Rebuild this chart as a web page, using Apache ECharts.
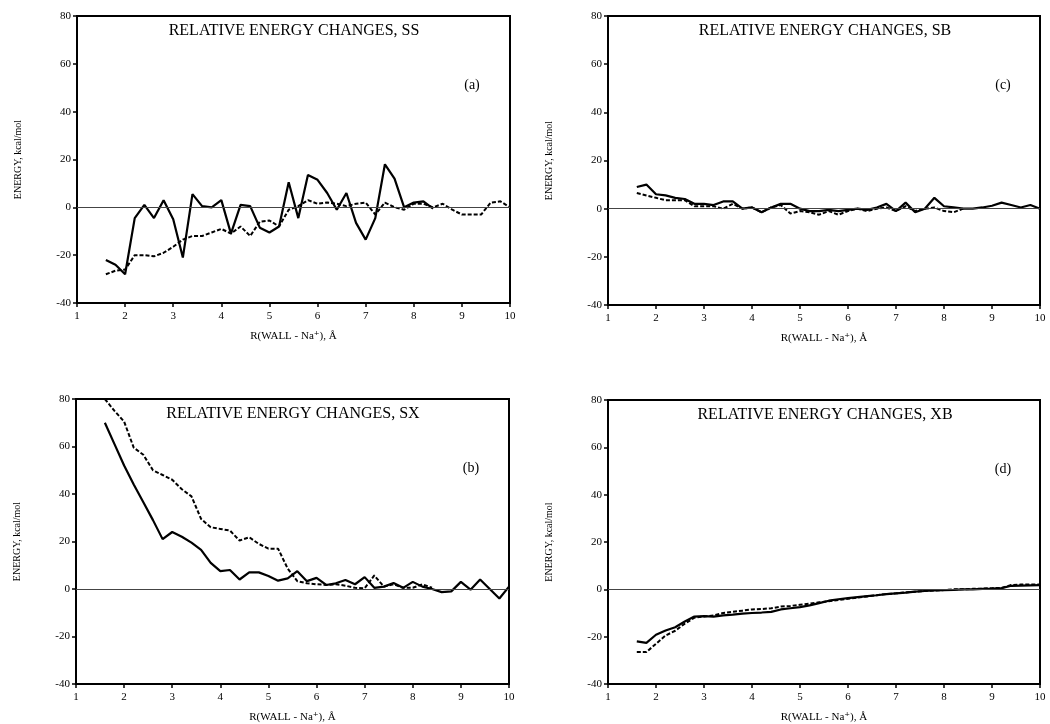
<!DOCTYPE html>
<html>
<head>
<meta charset="utf-8">
<script src="https://cdn.jsdelivr.net/npm/echarts@6/dist/echarts.min.js"></script>
<style>
  html, body { margin: 0; padding: 0; background: #fff; }
  #main { width: 1050px; height: 724px; }
</style>
</head>
<body>
<div id="main"></div>
<script>
// R(WALL - Na+) grid, Angstrom
var rValues = [1.6, 1.8, 2.0, 2.2, 2.4, 2.6, 2.8, 3.0, 3.2, 3.4, 3.6, 3.8, 4.0, 4.2, 4.4,
  4.6, 4.8, 5.0, 5.2, 5.4, 5.6, 5.8, 6.0, 6.2, 6.4, 6.6, 6.8, 7.0, 7.2, 7.4, 7.6, 7.8,
  8.0, 8.2, 8.4, 8.6, 8.8, 9.0, 9.2, 9.4, 9.6, 9.8, 10.0];

var xTicks = [1, 2, 3, 4, 5, 6, 7, 8, 9, 10];
var yTicks = [-40, -20, 0, 20, 40, 60, 80];

// (a) SS
var ssSolid = [-22, -24, -28, -4.5, 1, -4.5, 3, -5, -21, 5.5, 0.5, 0, 3, -11, 1, 0.5, -8.5,
  -10.5, -8, 10.5, -4.5, 13.5, 11.5, 6, -1, 6, -6.5, -13.5, -4.5, 18, 12, 0, 2, 2.5, -0.5];
var ssDash = [-28, -26.5, -26, -20, -20, -20.5, -19, -16.5, -13.5, -12, -12, -10.5, -9, -11,
  -8, -12, -6, -5.5, -8, -1, 0.5, 3, 1.5, 2, 1.5, 0.5, 1.5, 2, -3, 2, 0, -1, 1.5, 1.5, 0,
  1.5, -1, -3, -3, -3, 2, 2.5, 0];

// (b) SX
var sxSolid = [70, 61, 52, 44, 36.5, 29, 21, 24, 22, 19.5, 16.5, 11, 7.5, 8, 4, 7, 7, 5.5,
  3.5, 4.5, 7.5, 3.3, 4.7, 1.7, 2.4, 3.8, 2, 5, 0.5, 1, 2.5, 0.5, 3, 1, 0, -1.3, -1, 3,
  -0.3, 4, 0, -4, 1];
var sxDash = [80, 75, 70.5, 59.5, 56.5, 50, 48, 46, 42, 39, 29.5, 26, 25.3, 24.6, 20.4, 21.8,
  19, 17, 17, 8.6, 3.3, 2.4, 2, 1.7, 2, 1.4, 0.5, 0.3, 5.7, 1, 2, 0.5, 0.5, 2, 0.5];

// (c) SB
var sbSolid = [9, 10, 6, 5.5, 4.5, 4, 2, 2, 1.5, 3, 3, 0, 0.5, -1.5, 0.5, 2, 2, 0, -1, -1,
  -0.5, -1, -0.5, 0, -0.5, 0.5, 2, -1, 2.5, -1.5, 0, 4.5, 1, 0.5, 0, 0, 0.5, 1.2, 2.5, 1.5,
  0.5, 1.5, 0];
var sbDash = [6.5, 5.5, 4.5, 3.5, 3.5, 3.5, 1, 1, 1, 0, 2, 0, 0.5, -1.5, 0.5, 1.5, -2, -1,
  -1.5, -2.5, -1, -2.5, -1, 0, -1, 0, 0.5, -1, 1, -1, 0, 0.5, -1, -1.5, 0];

// (d) XB
var xbSolid = [-22, -22.6, -19.2, -17.4, -16, -13.6, -11.5, -11.3, -11.5, -11, -10.7, -10.3,
  -10, -9.8, -9.5, -8.5, -8, -7.5, -6.8, -5.8, -4.8, -4.2, -3.7, -3.3, -2.9, -2.5, -2, -1.7,
  -1.4, -1, -0.7, -0.5, -0.3, -0.2, 0, 0, 0.2, 0.3, 0.5, 1.5, 1.6, 1.7, 1.8];
var xbDash = [-26.5, -26.5, -23, -19.5, -17.5, -14.5, -12, -11.5, -11, -10, -9.5, -9, -8.5,
  -8.3, -8, -7.3, -7, -6.5, -6, -5.5, -5, -4.5, -4, -3.5, -3, -2.5, -2, -1.7, -1.3, -1, -0.7,
  -0.5, -0.3, 0, 0, 0.2, 0.3, 0.5, 0.6, 1.8, 2, 2, 2];

var panels = [
  { title: 'RELATIVE ENERGY CHANGES, SS', tag: '(a)', solid: ssSolid, dash: ssDash,
    grid: { left: 77, top: 16, width: 433, height: 287 } },
  { title: 'RELATIVE ENERGY CHANGES, SB', tag: '(c)', solid: sbSolid, dash: sbDash,
    grid: { left: 608, top: 16, width: 432, height: 289 } },
  { title: 'RELATIVE ENERGY CHANGES, SX', tag: '(b)', solid: sxSolid, dash: sxDash,
    grid: { left: 76, top: 399, width: 433, height: 289 } },
  { title: 'RELATIVE ENERGY CHANGES, XB', tag: '(d)', solid: xbSolid, dash: xbDash,
    grid: { left: 608, top: 400, width: 432, height: 289 } }
];

var serif = '"Liberation Serif", "DejaVu Serif", serif';

function pairs(arr) {
  var out = [];
  for (var i = 0; i < arr.length; i++) out.push([rValues[i], arr[i]]);
  return out;
}

var grids = [], xAxes = [], yAxes = [], series = [], graphics = [];

panels.forEach(function (p, i) {
  grids.push(Object.assign({ show: true, borderColor: '#000', borderWidth: 2 }, p.grid));
  xAxes.push({
    type: 'value', gridIndex: i, min: xTicks[0], max: xTicks[xTicks.length - 1], interval: 1,
    name: 'R(WALL - Na\u207A), \u00C5', nameLocation: 'middle', nameGap: 28,
    nameTextStyle: { fontFamily: serif, fontSize: 11, color: '#000' },
    axisLine: { onZero: false, lineStyle: { color: '#000', width: 2 } },
    axisTick: { length: 4, lineStyle: { color: '#000', width: 1.5 } },
    axisLabel: { fontFamily: serif, fontSize: 11, color: '#000', margin: 8 },
    splitLine: { show: false }
  });
  yAxes.push({
    type: 'value', gridIndex: i, min: yTicks[0], max: yTicks[yTicks.length - 1], interval: 20,
    name: 'ENERGY, kcal/mol', nameLocation: 'middle', nameGap: 54,
    nameTextStyle: { fontFamily: serif, fontSize: 10, color: '#000' },
    axisLine: { lineStyle: { color: '#000', width: 2 } },
    axisTick: { length: 4, lineStyle: { color: '#000', width: 1.5 } },
    axisLabel: { fontFamily: serif, fontSize: 11, color: '#000', margin: 6 },
    splitLine: { show: false }
  });
  series.push({
    type: 'line', xAxisIndex: i, yAxisIndex: i, data: pairs(p.solid),
    showSymbol: false, clip: true, z: 3,
    lineStyle: { color: '#000', width: 2.2 },
    markLine: {
      silent: true, symbol: ['none', 'none'], label: { show: false },
      lineStyle: { color: '#444', width: 1, type: 'solid' },
      data: [{ yAxis: 0 }]
    }
  });
  series.push({
    type: 'line', xAxisIndex: i, yAxisIndex: i, data: pairs(p.dash),
    showSymbol: false, clip: true, z: 3,
    lineStyle: { color: '#000', width: 2, type: [4, 2] }
  });
  var g = p.grid;
  graphics.push({
    type: 'text', x: g.left + 217, y: g.top + 15,
    style: { text: p.title, font: '16px ' + serif, fill: '#000',
      textAlign: 'center', textVerticalAlign: 'middle' }
  });
  graphics.push({
    type: 'text', x: g.left + 395, y: g.top + 69,
    style: { text: p.tag, font: '14px ' + serif, fill: '#000',
      textAlign: 'center', textVerticalAlign: 'middle' }
  });
});

var chart = echarts.init(document.getElementById('main'));
chart.setOption({
  backgroundColor: '#fff',
  animation: false,
  grid: grids,
  xAxis: xAxes,
  yAxis: yAxes,
  series: series,
  graphic: graphics
});
</script>
</body>
</html>
